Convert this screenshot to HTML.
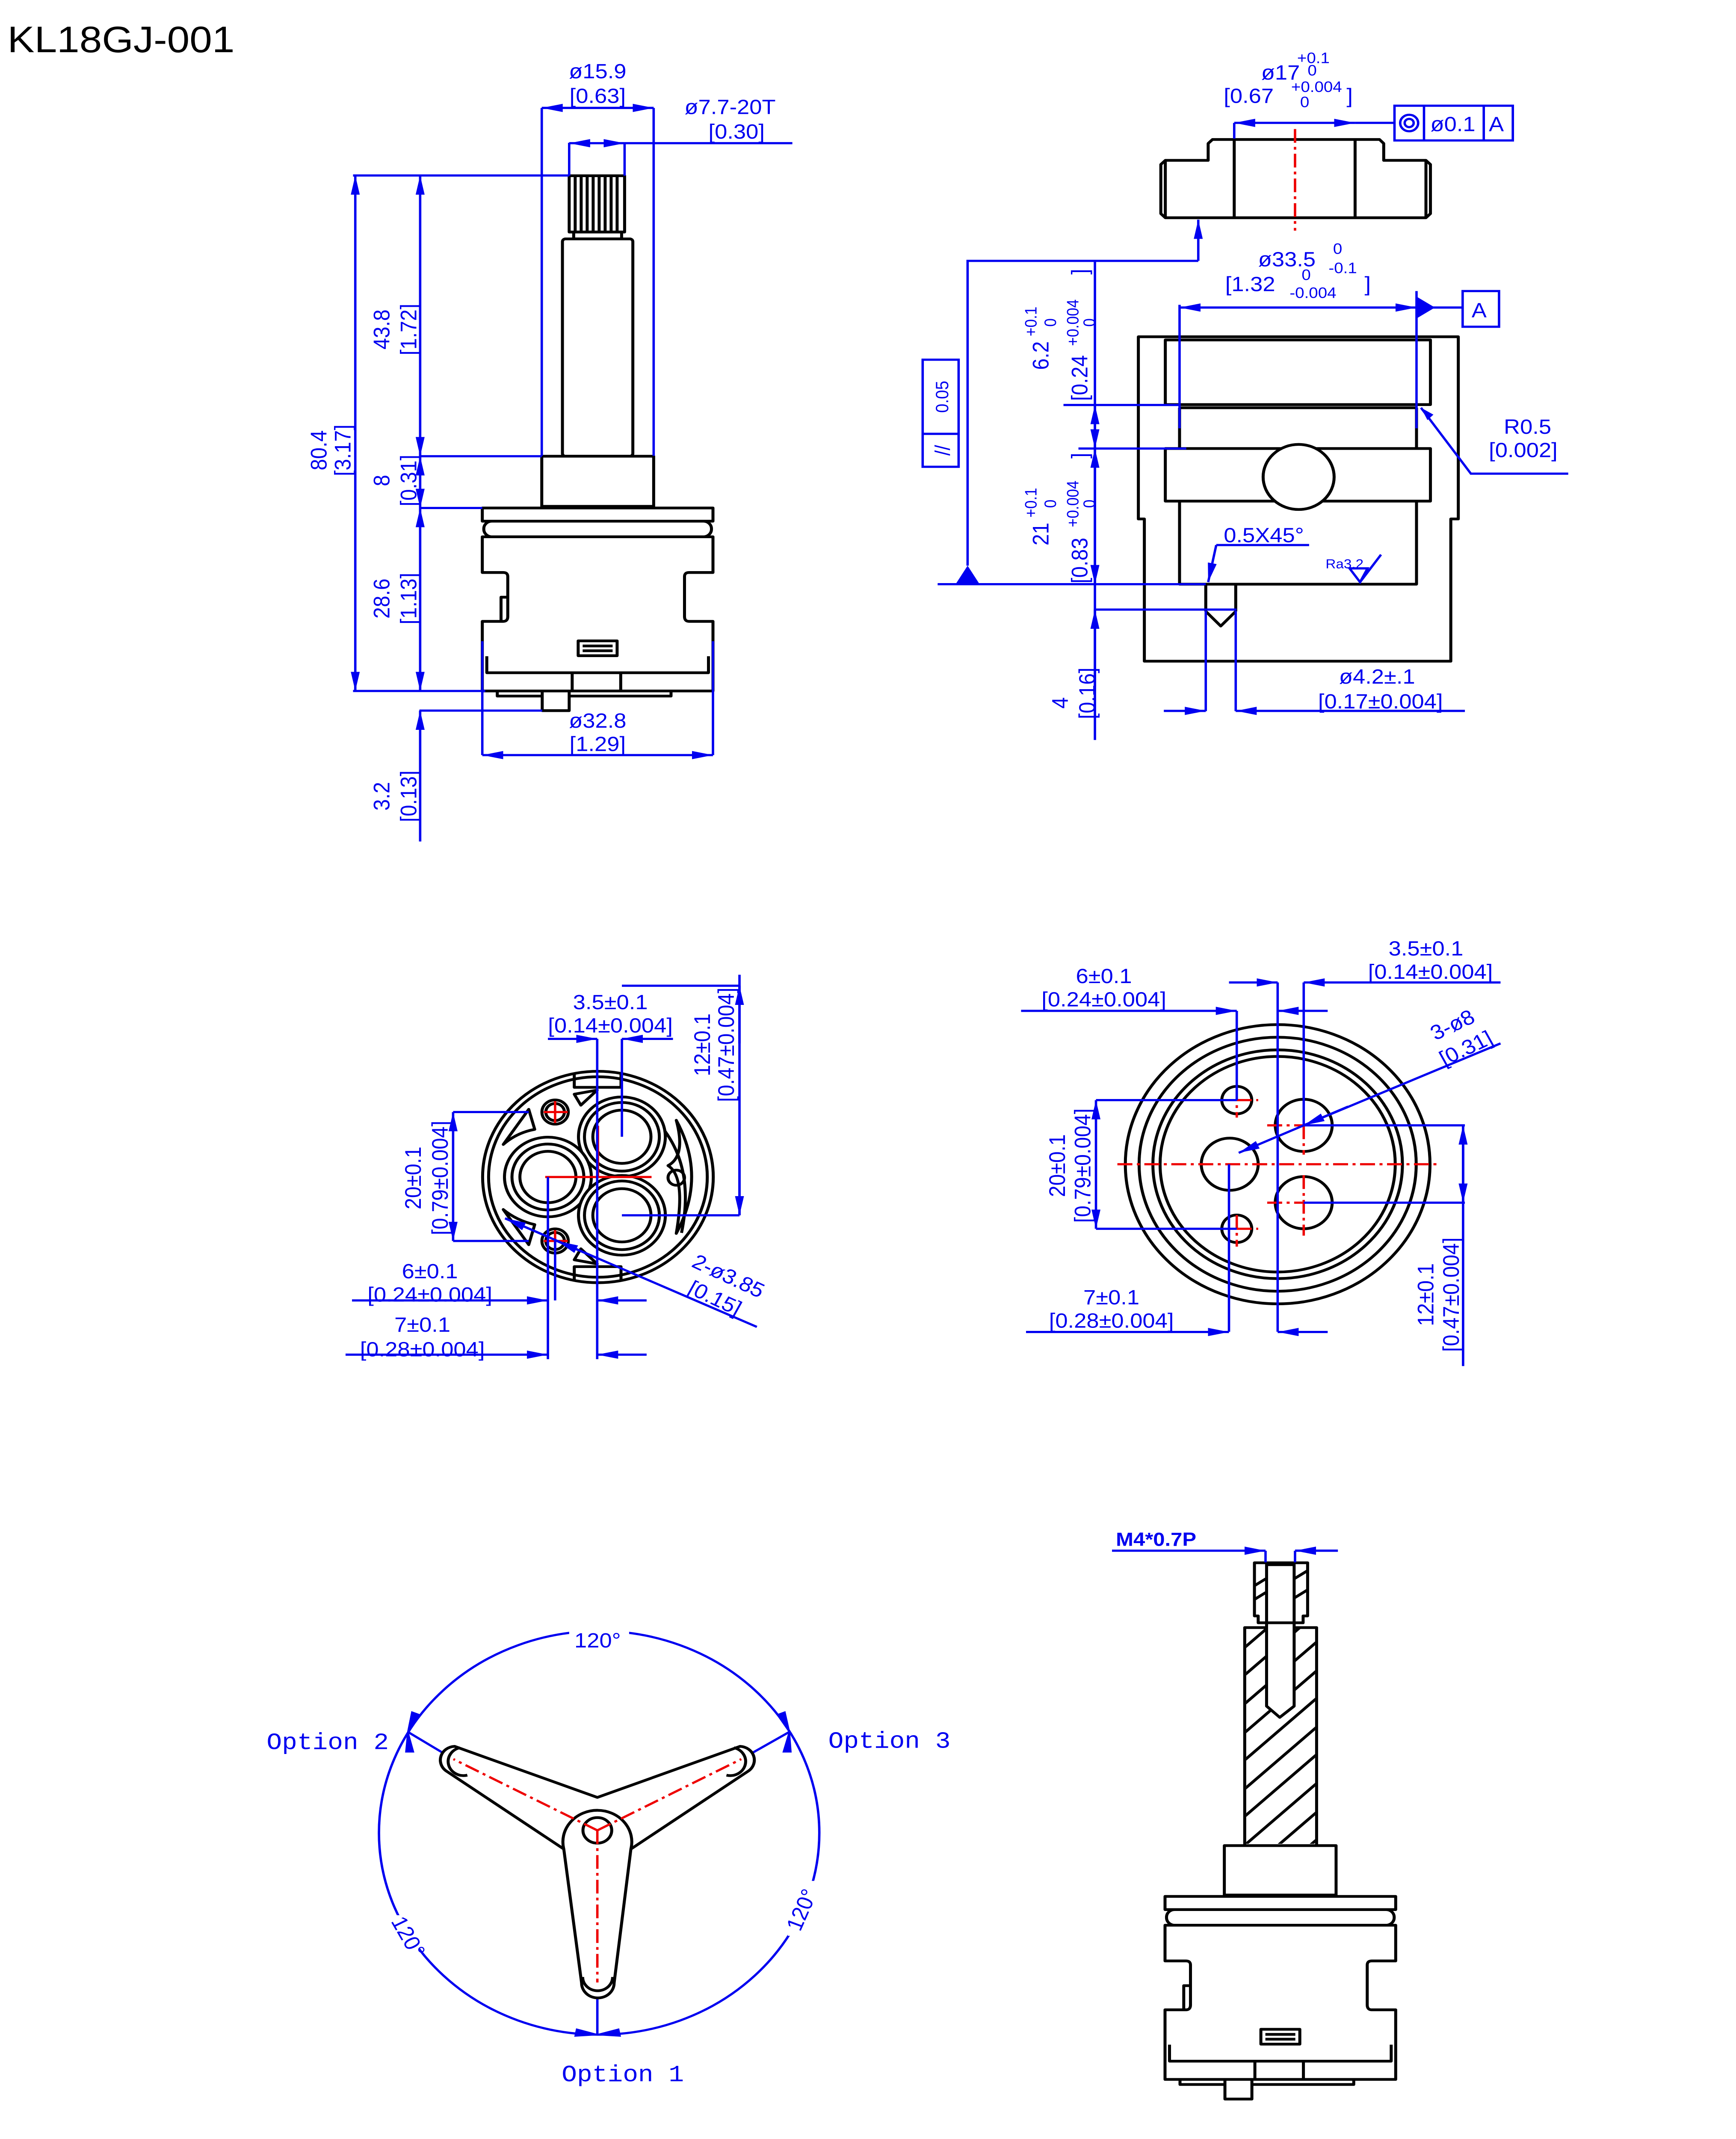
<!DOCTYPE html>
<html><head><meta charset="utf-8">
<style>
html,body{margin:0;padding:0;background:#fff;width:100%;height:100%;overflow:hidden;}
svg{display:block;width:100vw;height:100vh;}
.k{fill:none;stroke:#000;stroke-width:2;stroke-linejoin:round}
.kw{fill:#fff;stroke:#000;stroke-width:2;stroke-linejoin:round}
.b{fill:none;stroke:#0000f0;stroke-width:1.6}
.ba{fill:none;stroke:#0000f0;stroke-width:1.6;marker-end:url(#ar)}
.bb{fill:none;stroke:#0000f0;stroke-width:1.6;marker-start:url(#ar);marker-end:url(#ar)}
.r{fill:none;stroke:#ee0000;stroke-width:1.6;stroke-dasharray:10 3 2 3}
text{font-family:"Liberation Sans",sans-serif;fill:#0000f0;font-size:15px}
.m{text-anchor:middle}
.o{font-family:"Liberation Mono",monospace;font-size:17px}
.s{font-size:11px}
</style></head><body>
<svg viewBox="0 0 1159 1558" preserveAspectRatio="none" xmlns="http://www.w3.org/2000/svg">
<defs>
<marker id="ar" viewBox="0 0 14 6" refX="14" refY="3" markerWidth="14" markerHeight="6" markerUnits="userSpaceOnUse" orient="auto-start-reverse"><path d="M0,0 L14,3 L0,6 Z" fill="#0000f0"/></marker>
<g id="body">
<rect class="kw" x="0" y="0" width="154" height="9.6"/>
<rect class="kw" x="1" y="9.6" width="152" height="11.4" rx="5.5"/>
<path class="kw" d="M0,21 H154 V47 H138 Q135,47 135,50 V79 Q135,82.6 138,82.6 H154 V133.3 H0 V82.6 H14 Q17,82.6 17,79 V50 Q17,47 14,47 H0 Z"/>
<path class="k" d="M3,108 V120 H151 V108 M60,120 V133.3 M92.4,120 V133.3 M12.5,82.6 V65 H17"/>
<rect class="k" x="64" y="96.8" width="26" height="10.8" stroke-width="2.5"/>
<path class="k" d="M67,100.5 H87 M67,104 H87" stroke-width="1.2"/>
<path class="k" d="M10,133.3 V137 H126 V133.3"/>
<rect class="kw" x="40" y="133.3" width="18" height="14.3"/>
</g>
</defs>
<rect width="1159" height="1558" fill="#fff"/>

<text x="5" y="38" style="font-size:27px;fill:#000">KL18GJ-001</text>

<rect class="kw" x="380" y="128" width="37" height="41"/>
<path class="k" d="M384,128V169 M388,128V169 M392,128V169 M396,128V169 M400,128V169 M404,128V169 M408,128V169 M412,128V169" stroke-width="1.3"/>
<rect class="kw" x="383" y="169" width="32" height="5"/>
<rect class="kw" x="375.5" y="174" width="47" height="158.3" rx="2"/>
<rect class="kw" x="361.7" y="332.3" width="74.7" height="36.5"/>
<use href="#body" x="322" y="370"/>
<path class="b" d="M361.7,78.6V332 M436.4,78.6V332 M380,104V128 M417,104V128 M417,104.3H529 M235.7,127.8H380 M235.7,503.3H324 M280,332.3H361.7 M280,370H322 M280,517.6H362 M322,467V550 M476,467V550"/>
<path class="bb" d="M361.7,78.6H436.4"/>
<path class="bb" d="M380,104.3H417"/>
<path class="bb" d="M237.2,127.8V503.3"/>
<path class="bb" d="M280.5,127.8V332.3"/>
<path class="bb" d="M280.5,332.3V370"/>
<path class="bb" d="M280.5,370V503.3"/>
<path class="ba" d="M280.5,612.9V517.6"/>
<path class="bb" d="M322,550H476"/>
<text class="m" x="399" y="57">ø15.9</text>
<text class="m" x="399" y="75">[0.63]</text>
<text x="457" y="83">ø7.7-20T</text>
<text x="473" y="101">[0.30]</text>
<text class="m" transform="translate(218,328) rotate(-90)">80.4</text>
<text class="m" transform="translate(234,328) rotate(-90)">[3.17]</text>
<text class="m" transform="translate(260,240) rotate(-90)">43.8</text>
<text class="m" transform="translate(278,240) rotate(-90)">[1.72]</text>
<text class="m" transform="translate(260,350) rotate(-90)">8</text>
<text class="m" transform="translate(278,350) rotate(-90)">[0.31]</text>
<text class="m" transform="translate(260,436) rotate(-90)">28.6</text>
<text class="m" transform="translate(278,436) rotate(-90)">[1.13]</text>
<text class="m" transform="translate(260,580) rotate(-90)">3.2</text>
<text class="m" transform="translate(278,580) rotate(-90)">[0.13]</text>
<text class="m" x="399" y="530">ø32.8</text>
<text class="m" x="399" y="547">[1.29]</text>

<path class="kw" d="M778,116.8 H806.6 V104.5 L809.5,101.6 H921 L923.8,104.5 V116.8 H952 L955,119.8 V155.6 L952,158.6 H778 L775,155.6 V119.8 Z"/>
<path class="k" d="M824,101.6V158.6 M904.7,101.6V158.6 M778,116.8V158.6 M952,116.8V158.6"/>
<path class="r" d="M864.6,94V168"/>
<path class="bb" d="M824,89.5H904.7"/>
<path class="b" d="M824,89.5V101 M904.7,89.5H931"/>
<rect class="b" x="931" y="77" width="79" height="25.3"/>
<path class="b" d="M950.7,77V102.3 M990.6,77V102.3"/>
<circle cx="940.8" cy="89.6" r="6" class="b"/><circle cx="940.8" cy="89.6" r="3" class="b"/>
<text x="955" y="95.5">ø0.1</text><text x="994" y="95.5">A</text>
<text x="842" y="58">ø17</text><text x="866" y="46" class="s">+0.1</text><text x="873" y="55" class="s">0</text>
<text x="817" y="75">[0.67</text><text x="862" y="67" class="s">+0.004</text><text x="868" y="78" class="s">0</text><text x="899" y="75">]</text>

<path class="k" d="M760,245.3 H973.6 V378 H968.6 V481.6 H764 V378 H760 Z"/>
<rect class="k" x="778" y="247.6" width="177" height="47.1"/>
<path class="k" d="M787.5,297 H945.7 M787.5,297V326.7 M945.7,297V326.7 M787.5,365V425.5 H945.7 V365"/>
<rect class="kw" x="778" y="326.7" width="177" height="38.3"/>
<circle class="kw" cx="867" cy="347.4" r="23.7"/>
<path class="k" d="M805,425.5V445.3 M825,425.5V445.3 M805,445.3 L815,456 L825,445.3"/>
<path class="ba" d="M800,190V160"/>
<path class="b" d="M800,190H646V412"/>
<path d="M638,425.5 L646,412 L654,425.5Z" fill="#0000f0"/>
<path class="b" d="M626,425.5H805"/>
<rect class="b" x="616" y="262" width="24" height="78"/><path class="b" d="M616,316H640"/>
<text class="m s" transform="translate(633,289) rotate(-90)" style="font-size:12px">0.05</text>
<text class="m" transform="translate(634,328) rotate(-90)" style="font-size:14px">//</text>
<path class="b" d="M731,190V539 M710,295H787.5 M720,326.7H792 M731,444H825.6"/>
<path class="bb" d="M731,295V326.7"/>
<path class="ba" d="M731,380V425.5"/><path class="ba" d="M731,380V326.7"/>
<path class="ba" d="M731,500V444"/>
<text class="m" transform="translate(700,259) rotate(-90)">6.2</text>
<text class="s" transform="translate(692,245) rotate(-90)">+0.1</text>
<text class="s" transform="translate(705,238) rotate(-90)">0</text>
<text transform="translate(726,292) rotate(-90)">[0.24</text>
<text class="s" transform="translate(720,252) rotate(-90)">+0.004</text>
<text class="s" transform="translate(731,238) rotate(-90)">0</text>
<text transform="translate(726,200) rotate(-90)">]</text>
<text class="m" transform="translate(700,389) rotate(-90)">21</text>
<text class="s" transform="translate(692,377) rotate(-90)">+0.1</text>
<text class="s" transform="translate(705,370) rotate(-90)">0</text>
<text transform="translate(726,425) rotate(-90)">[0.83</text>
<text class="s" transform="translate(720,384) rotate(-90)">+0.004</text>
<text class="s" transform="translate(731,370) rotate(-90)">0</text>
<text transform="translate(726,334) rotate(-90)">]</text>
<path class="b" d="M787.5,222V312 M945.7,212V312 M945.7,224H976.5"/>
<path class="bb" d="M787.5,224H945.7"/>
<path d="M945.7,216 L958,224 L945.7,232Z" fill="#0000f0"/>
<rect class="b" x="976.5" y="212" width="24.3" height="26"/><text x="982.5" y="231">A</text>
<text x="840" y="194">ø33.5</text><text x="890" y="185" class="s">0</text><text x="887" y="199" class="s">-0.1</text>
<text x="818" y="212">[1.32</text><text x="869" y="204" class="s">0</text><text x="861" y="217" class="s">-0.004</text><text x="911" y="212">]</text>
<path class="b" d="M1047,345H982L948.7,297"/>
<path d="M948.7,297 L957,302 L953,306Z" fill="#0000f0"/>
<text x="1004" y="316">R0.5</text><text x="994" y="333">[0.002]</text>
<path class="b" d="M874,397H812"/><path class="ba" d="M812,397L806.6,424"/>
<text x="817" y="395">0.5X45°</text>
<text x="885" y="414" style="font-size:9.5px">Ra3.2</text>
<path class="b" d="M901,414H913L908,424Z M908,424L922,404" stroke-width="1.2"/>
<path class="b" d="M805,445V518 M825,445V518"/>
<path class="ba" d="M777,517.8H805"/><path class="ba" d="M978,517.8H825"/>
<text x="894" y="498">ø4.2±.1</text><text x="880" y="516">[0.17±0.004]</text>
<text class="m" transform="translate(713,512) rotate(-90)">4</text>
<text class="m" transform="translate(731,505) rotate(-90)">[0.16]</text>

<circle class="k" cx="399.2" cy="857.3" r="77"/>
<circle class="k" cx="399.2" cy="857.3" r="73" stroke-width="1.3"/>
<path class="k" d="M383.4,782 V792 H414.6 V782 M383.4,932.6 V922.6 H414.6 V932.6"/>
<path class="k" d="M353,808 L336,833.6 Q345,825 357,822.6 Z M353,906.6 L336,881 Q345,889 357,892 Z M383.4,797 L398.7,794 L387.8,805 Z M383.4,917.6 L398.7,920.6 L387.8,909.6 Z" stroke-width="2.4"/>
<path class="k" d="M451.5,816 Q472,857 451.5,898.4 Q458,857 446,849 Q458,842 451.5,816 Z" stroke-width="2.2"/>
<path class="k" d="M430,808 Q466,840 455,898" stroke-width="1.3"/>
<circle class="k" cx="451.5" cy="857.8" r="5.5" stroke-width="1.4"/>
<circle class="kw" cx="415.2" cy="828" r="29"/><circle class="k" cx="415.2" cy="828" r="25" stroke-width="1.5"/><circle class="k" cx="415.2" cy="828" r="19.4" stroke-width="2.5"/>
<circle class="kw" cx="365.8" cy="857.3" r="29"/><circle class="k" cx="365.8" cy="857.3" r="24" stroke-width="2.4"/><circle class="k" cx="365.8" cy="857.3" r="18.7"/>
<circle class="kw" cx="415.2" cy="885.2" r="29"/><circle class="k" cx="415.2" cy="885.2" r="25" stroke-width="1.5"/><circle class="k" cx="415.2" cy="885.2" r="19.4" stroke-width="2.5"/>
<circle class="k" cx="370.6" cy="810" r="8.8"/><circle class="k" cx="370.6" cy="810" r="6.2" stroke-width="1.3"/>
<circle class="k" cx="370.6" cy="903.9" r="8.8"/><circle class="k" cx="370.6" cy="903.9" r="6.2" stroke-width="1.3"/>
<path d="M363,810H379 M370.6,802V818 M363,903.9H379 M370.6,896V912 M364,857.3H435 M399.2,820V857.3" stroke="#ee0000" stroke-width="1.6" fill="none"/>
<path class="b" d="M398.7,756.7V990 M415.2,756.7V828 M415.2,718H493.7 M415.2,885.2H493.7 M493.7,710V885.2 M302.5,810H353 M302.5,903.9H353 M365.8,857.3V990 M370.6,903.9V947.2"/>
<path class="ba" d="M365.8,756.7H398.7"/><path class="ba" d="M449.3,756.7H415.2"/>
<path class="ba" d="M493.7,760V718"/><path class="ba" d="M493.7,845V885.2"/>
<path class="bb" d="M302.5,810V903.9"/>
<path class="ba" d="M235,947.2H365.8"/><path class="ba" d="M431.7,947.2H398.7"/>
<path class="ba" d="M230.7,986.7H365.8"/><path class="ba" d="M431.7,986.7H398.7"/>
<path class="b" d="M505.3,966.5L337.2,887.4"/>
<path class="ba" d="M365,900.5L337.2,887.4"/><path class="ba" d="M400,917L372,904"/>
<text class="m" x="407.5" y="735">3.5±0.1</text>
<text class="m" x="407.5" y="752">[0.14±0.004]</text>
<text class="m" transform="translate(474,761) rotate(-90)">12±0.1</text>
<text class="m" transform="translate(490,761) rotate(-90)">[0.47±0.004]</text>
<text class="m" transform="translate(281,858) rotate(-90)">20±0.1</text>
<text class="m" transform="translate(299,858) rotate(-90)">[0.79±0.004]</text>
<text class="m" x="287" y="931">6±0.1</text>
<text class="m" x="287" y="948">[0.24±0.004]</text>
<text class="m" x="282" y="970">7±0.1</text>
<text class="m" x="282" y="988">[0.28±0.004]</text>
<text class="m" transform="translate(484,934) rotate(27)">2-ø3.85</text>
<text class="m" transform="translate(475,950) rotate(27)">[0.15]</text>

<circle class="k" cx="853" cy="848" r="101.7"/>
<circle class="k" cx="853" cy="848" r="92.5"/>
<circle class="k" cx="853" cy="848" r="83.3"/>
<circle class="k" cx="853" cy="848" r="78.5"/>
<circle class="k" cx="825.7" cy="801.3" r="10"/>
<circle class="k" cx="825.7" cy="895" r="10"/>
<circle class="k" cx="821" cy="848" r="19"/>
<circle class="k" cx="870.4" cy="819.7" r="19"/>
<circle class="k" cx="870.4" cy="876" r="19"/>
<path class="r" d="M746,848H961.4 M825.7,801.3H840 M825.7,792V814 M825.7,895H840 M825.7,885V908 M846,819.7H870.4 M870.4,819.7V841 M846,876H870.4 M870.4,856V900"/>
<path class="b" d="M853,715.6V970 M870.4,715.6V819.7 M825.7,736.3V801.3 M820.5,848V970 M870.4,819.7H978 M870.4,876H978 M976.8,819.7V995 M731.7,801.3H825.7 M731.7,895H825.7"/>
<path class="ba" d="M820.5,715.6H853"/><path class="ba" d="M1001.8,715.6H870.4"/>
<path class="ba" d="M681.7,736.3H825.7"/><path class="ba" d="M886.4,736.3H853"/>
<path class="ba" d="M685,970.2H820.5"/><path class="ba" d="M886.4,970.2H853"/>
<path class="bb" d="M731.7,801.3V895"/>
<path class="ba" d="M976.8,860V819.7"/><path class="ba" d="M976.8,835V876"/>
<path class="b" d="M1001.8,760L870.4,819.7"/>
<path class="ba" d="M900,806L870.4,819.7"/>
<path class="ba" d="M870.4,819.7L827,839.7"/>
<text class="m" x="952" y="696">3.5±0.1</text>
<text class="m" x="955" y="713">[0.14±0.004]</text>
<text class="m" x="737" y="716">6±0.1</text>
<text class="m" x="737" y="733">[0.24±0.004]</text>
<text class="m" x="742" y="950">7±0.1</text>
<text class="m" x="742" y="967">[0.28±0.004]</text>
<text class="m" transform="translate(711,849) rotate(-90)">20±0.1</text>
<text class="m" transform="translate(728,849) rotate(-90)">[0.79±0.004]</text>
<text class="m" transform="translate(957,943) rotate(-90)">12±0.1</text>
<text class="m" transform="translate(974,943) rotate(-90)">[0.47±0.004]</text>
<text class="m" transform="translate(972,751) rotate(-27)">3-ø8</text>
<text class="m" transform="translate(981,768) rotate(-27)">[0.31]</text>

<circle class="b" cx="400" cy="1335" r="147"/>
<rect x="380" y="1182" width="40" height="16" fill="#fff"/>
<rect x="258" y="1395" width="22" height="40" fill="#fff"/>
<rect x="526" y="1370" width="20" height="40" fill="#fff"/>
<text class="m" x="399" y="1200">120°</text>
<text class="m" transform="translate(268,1413) rotate(62)">120°</text>
<text class="m" transform="translate(540,1393) rotate(-68)">120°</text>
<path class="b" d="M302.7,1281.3L272.3,1261.5 M494.9,1281.3L527,1261.5 M398.8,1452L398.8,1482"/>
<path d="M272.3,1261.5 L275,1247 L280,1249Z M272.3,1261.5 L271,1276 L276,1276Z M527,1261.5 L524,1247 L519,1249Z M527,1261.5 L528,1276 L523,1276Z M398.8,1482 L385,1478 L384,1483Z M398.8,1482 L413,1478 L414,1483Z" fill="#0000f0" stroke="#0000f0" stroke-width="1"/>
<path class="kw" d="M398.8,1309.2 L303.5,1272 A10,10 0 0,0 298,1290 L376.4,1346.8 L388.3,1444.4 A10.8,10.8 0 0,0 410,1444.4 L421.2,1346.8 L499.6,1290 A10,10 0 0,0 494.1,1272 Z"/>
<path class="k" d="M376.4,1346.8 A23,23 0 1,1 421.2,1346.8"/>
<ellipse class="k" cx="398.8" cy="1333.2" rx="9.6" ry="9.3"/>
<path class="k" d="M307,1273 A10,10 0 0,0 312,1293 M490,1273 A10,10 0 0,1 485,1293 M389,1440 A10,10 0 0,0 409,1440"/>
<path class="r" d="M398.8,1333.2L302.7,1281.3 M398.8,1333.2L494.9,1281.3 M398.8,1333.2V1444"/>
<text class="o" x="178" y="1274">Option 2</text>
<text class="o" x="553" y="1273">Option 3</text>
<text class="o" x="375" y="1516">Option 1</text>

<path class="kw" d="M831,1185.5 H879 V1344.3 H831 Z"/>
<clipPath id="stc"><rect x="832" y="1186" width="46" height="157"/></clipPath>
<g clip-path="url(#stc)" class="k" stroke-width="1.8">
<path d="M831,1200L879,1155 M831,1220L879,1175 M831,1241L879,1196 M831,1262L879,1217 M831,1282L879,1237 M831,1303L879,1258 M831,1323L879,1278 M831,1344L879,1299 M831,1365L879,1320 M831,1385L879,1340 M831,1405L879,1360"/>
</g>
<path class="kw" d="M837.5,1138.3 H873 V1177 L870,1177 V1182 H840 V1177 L837.5,1177 Z"/>
<path class="k" d="M837.5,1155L845,1150 M837.5,1165L845,1160 M864,1150L873,1144 M864,1164L873,1158" stroke-width="1.6"/>
<path class="kw" d="M845.6,1139.7 V1242.7 L854.4,1250.9 L864,1242.7 V1139.7 Z"/>
<path class="k" d="M845.6,1182H864"/>
<rect class="kw" x="817.4" y="1344.3" width="74.6" height="36"/>
<use href="#body" x="777.8" y="1381.3"/>
<path class="b" d="M844.9,1129.5V1138 M864.6,1129.5V1138 M864.6,1129.5H893.2"/>
<path class="ba" d="M742.4,1129.5H844.9"/><path class="ba" d="M893.2,1129.5H864.6"/>
<text x="745" y="1126" style="font-size:14px;font-weight:bold">M4*0.7P</text>
</svg>
</body></html>
